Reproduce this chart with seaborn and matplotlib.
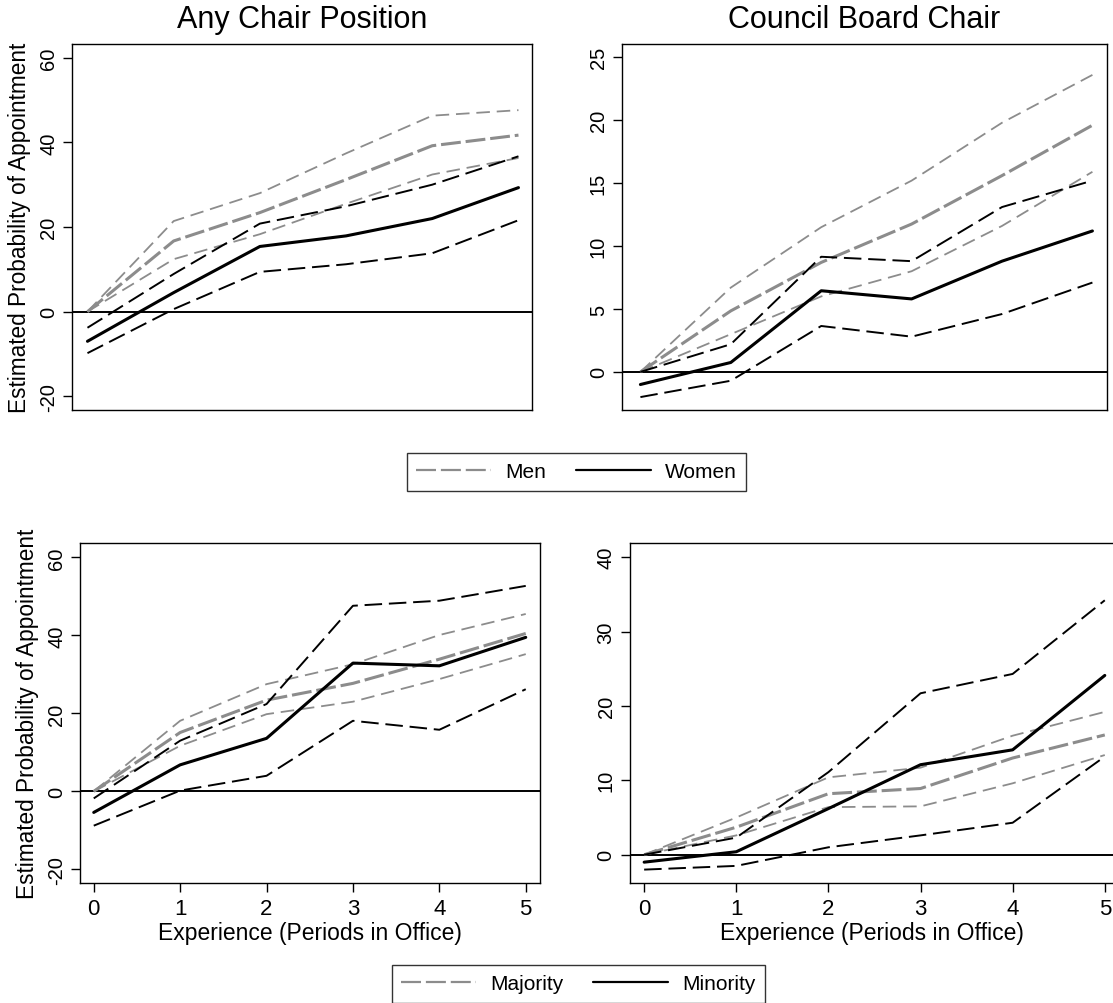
import matplotlib
matplotlib.use("Agg")
import matplotlib.pyplot as plt
import seaborn as sns
from matplotlib.lines import Line2D

# x axis: experience (periods in office)
periods = [0, 1, 2, 3, 4, 5]

# Any Chair Position (men vs women)
chair_men_fit = [0, 16.7, 23.4, 31.2, 39.2, 41.7]
chair_men_hi = [0, 21.4, 28.0, 37.4, 46.3, 47.6]
chair_men_lo = [0, 12.4, 18.3, 25.5, 32.4, 36.3]
chair_women_fit = [-7.0, 4.5, 15.4, 17.9, 22.0, 29.3]
chair_women_hi = [-3.8, 8.9, 20.8, 24.9, 30.0, 36.7]
chair_women_lo = [-9.8, 0.6, 9.4, 11.2, 13.8, 21.6]

# Council Board Chair (men vs women)
board_men_fit = [0, 4.85, 8.7, 11.75, 15.6, 19.6]
board_men_hi = [0, 6.7, 11.5, 15.2, 19.8, 23.6]
board_men_lo = [0, 3.0, 6.0, 8.0, 11.6, 15.9]
board_women_fit = [-1.0, 0.75, 6.45, 5.8, 8.8, 11.2]
board_women_hi = [0, 2.2, 9.15, 8.8, 13.1, 15.2]
board_women_lo = [-2.0, -0.7, 3.65, 2.8, 4.6, 7.1]

# Any Chair Position (majority vs minority)
chair_maj_fit = [0, 15.1, 23.4, 27.7, 33.9, 40.5]
chair_maj_hi = [0, 18.1, 27.5, 32.6, 40.1, 45.5]
chair_maj_lo = [0, 11.7, 19.8, 23.0, 28.8, 35.2]
chair_min_fit = [-5.4, 6.8, 13.6, 32.9, 32.2, 39.5]
chair_min_hi = [-1.8, 13.0, 22.4, 47.6, 48.9, 52.7]
chair_min_lo = [-8.8, 0.2, 4.0, 18.1, 15.8, 26.2]

# Council Board Chair (majority vs minority)
board_maj_fit = [0, 3.7, 8.2, 8.9, 13.0, 16.1]
board_maj_hi = [0, 5.0, 10.4, 11.7, 16.0, 19.2]
board_maj_lo = [0, 2.6, 6.4, 6.5, 9.6, 13.4]
board_min_fit = [-1.0, 0.4, 6.2, 12.1, 14.1, 24.1]
board_min_hi = [0, 2.3, 11.1, 21.7, 24.3, 34.2]
board_min_lo = [-2.0, -1.5, 1.0, 2.6, 4.3, 13.2]

titles = ["Any Chair Position", "Council Board Chair"]
ylabel = "Estimated Probability of Appointment"
xlabel = "Experience (Periods in Office)"
legend_top = ["Men", "Women"]
legend_bottom = ["Majority", "Minority"]

GRAY = "#8c8c8c"
grp_fit = dict(color=GRAY, linewidth=2.2, linestyle=(0, (6.5, 1.6)))
grp_ci = dict(color=GRAY, linewidth=1.3, linestyle=(0, (7.5, 3.8)))
ref_fit = dict(color="black", linewidth=2.2, linestyle="-")
ref_ci = dict(color="black", linewidth=1.4, linestyle=(0, (9, 3.5)))

sns.set_theme(style="ticks")
plt.rcParams["font.family"] = ["Liberation Sans", "DejaVu Sans"]
plt.rcParams["axes.edgecolor"] = "black"
plt.rcParams["axes.linewidth"] = 1.0
plt.rcParams["axes.unicode_minus"] = False
plt.rcParams["text.color"] = "black"
plt.rcParams["axes.labelcolor"] = "black"
plt.rcParams["xtick.color"] = "black"
plt.rcParams["ytick.color"] = "black"


def draw_panel(ax, grp, ref, xlim, ylim, yticks, bottom_row):
    ax.axhline(0, color="black", linewidth=1.4, zorder=1)
    fit_a, lo_a, hi_a = grp
    fit_b, lo_b, hi_b = ref
    sns.lineplot(x=periods, y=hi_a, ax=ax, **grp_ci)
    sns.lineplot(x=periods, y=lo_a, ax=ax, **grp_ci)
    sns.lineplot(x=periods, y=fit_a, ax=ax, **grp_fit)
    sns.lineplot(x=periods, y=hi_b, ax=ax, **ref_ci)
    sns.lineplot(x=periods, y=lo_b, ax=ax, **ref_ci)
    sns.lineplot(x=periods, y=fit_b, ax=ax, **ref_fit)
    ax.set_xlim(*xlim)
    ax.set_ylim(*ylim)
    ax.set_yticks(yticks)
    ax.tick_params(axis="y", labelrotation=90, labelsize=14.5, length=6.5,
                   width=1, pad=3.5, color="black", labelcolor="black")
    for lab in ax.get_yticklabels():
        lab.set_va("center")
    if bottom_row:
        ax.set_xticks(periods)
        ax.tick_params(axis="x", labelsize=16, length=6.5, width=1, pad=4.5,
                       color="black", labelcolor="black")
        ax.set_xlabel(xlabel, fontsize=16.5, labelpad=1)
    else:
        ax.set_xticks([])
        ax.set_xlabel("")
    ax.set_ylabel("")
    for sp in ax.spines.values():
        sp.set_visible(True)
        sp.set_color("black")


W, H = 1113, 1004
fig = plt.figure(figsize=(W / 100, H / 100), dpi=100)


def box(l, r, t, b):
    return [l / W, 1 - b / H, (r - l) / W, (b - t) / H]


ax1 = fig.add_axes(box(72.3, 532, 44.7, 411.3))
ax2 = fig.add_axes(box(621.7, 1106.7, 44.7, 411.3))
ax3 = fig.add_axes(box(80, 540, 544, 884))
ax4 = fig.add_axes(box(629.5, 1114, 544, 884))

draw_panel(ax1, (chair_men_fit, chair_men_lo, chair_men_hi),
           (chair_women_fit, chair_women_lo, chair_women_hi),
           (-0.176, 5.157), (-23.3, 63.3), [-20, 0, 20, 40, 60], False)
draw_panel(ax2, (board_men_fit, board_men_lo, board_men_hi),
           (board_women_fit, board_women_lo, board_women_hi),
           (-0.207, 5.158), (-3.05, 26.08), [0, 5, 10, 15, 20, 25], False)
draw_panel(ax3, (chair_maj_fit, chair_maj_lo, chair_maj_hi),
           (chair_min_fit, chair_min_lo, chair_min_hi),
           (-0.159, 5.165), (-23.5, 63.7), [-20, 0, 20, 40, 60], True)
draw_panel(ax4, (board_maj_fit, board_maj_lo, board_maj_hi),
           (board_min_fit, board_min_lo, board_min_hi),
           (-0.159, 5.1), (-3.8, 41.9), [0, 10, 20, 30, 40], True)

ax1.set_title(titles[0], fontsize=22, pad=12, color="black")
ax2.set_title(titles[1], fontsize=22, pad=12, color="black")
ax1.set_ylabel(ylabel, fontsize=16.3, labelpad=6, color="black")
ax3.set_ylabel(ylabel, fontsize=16.3, labelpad=6, color="black")


def add_legend(labels, x, y):
    handles = [Line2D([], [], color=GRAY, linewidth=1.6, linestyle=(0, (9, 2.2))),
               Line2D([], [], color="black", linewidth=1.6)]
    leg = fig.legend(handles, labels, loc="upper center", bbox_to_anchor=(x, y),
                     ncol=2, frameon=True, fancybox=False, shadow=False,
                     edgecolor="black", fontsize=15, handlelength=3.6,
                     handletextpad=0.7, columnspacing=1.4, borderpad=0.45,
                     borderaxespad=0, labelcolor="black")
    leg.get_frame().set_linewidth(1.0)
    return leg


add_legend(legend_top, 576.5 / W, 1 - 454 / H)
add_legend(legend_bottom, 578.5 / W, 1 - 966 / H)

fig.savefig("out.png", dpi=100)
